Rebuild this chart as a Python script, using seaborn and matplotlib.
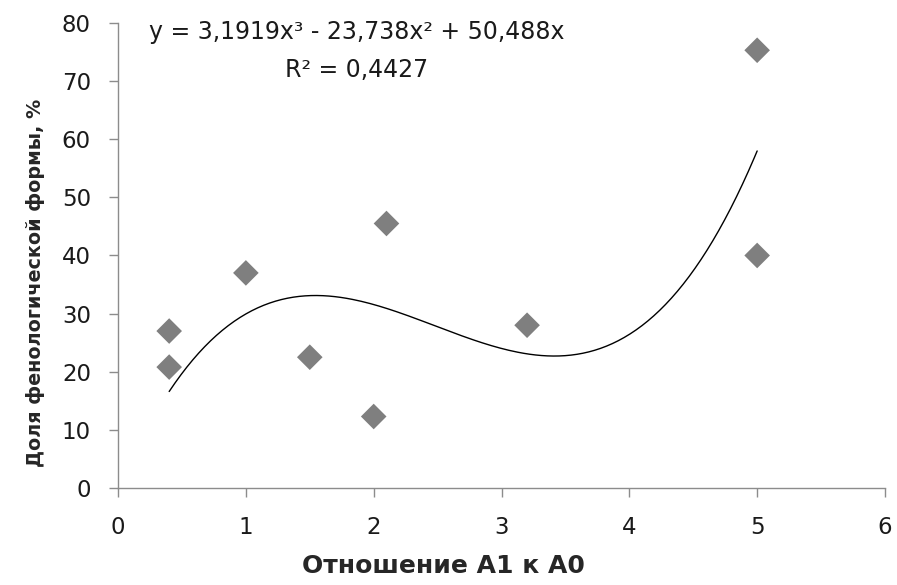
import numpy as np
import pandas as pd
import matplotlib
matplotlib.use("Agg")
import matplotlib.pyplot as plt
import seaborn as sns

sns.set_theme(style="white")
plt.rcParams["font.family"] = ["DejaVu Sans"]

# observed points
ratio_a1_a0 = [0.4, 0.4, 1.0, 1.5, 2.0, 2.1, 3.2, 5.0, 5.0]
share_pct = [27.0, 20.8, 37.0, 22.5, 12.3, 45.5, 28.0, 75.3, 40.0]

# polynomial trendline (3rd order, zero intercept) as printed on the chart
coef = [3.1919, -23.738, 50.488, 0.0]
trend_range = [0.4, 5.0]

pts = pd.DataFrame({"x": ratio_a1_a0, "y": share_pct})
xs = np.linspace(trend_range[0], trend_range[1], 200)
trend = pd.DataFrame({"x": xs, "y": np.polyval(coef, xs)})

fig = plt.figure(figsize=(8.97, 5.85), dpi=100)
ax = fig.add_axes([0.1316, 0.1658, 0.855, 0.795])

sns.lineplot(data=trend, x="x", y="y", ax=ax, color="black", linewidth=1.0)
sns.scatterplot(data=pts, x="x", y="y", ax=ax, marker="D", s=170,
                color="#7f7f7f", edgecolor="none", zorder=3)

ax.set_xlim(0, 6)
ax.set_ylim(0, 80)
ax.set_xticks(range(0, 7))
ax.set_yticks(range(0, 81, 10))
ax.tick_params(axis="both", direction="out", length=6.5, width=1, color="#8c8c8c",
               bottom=True, left=True,
               labelsize=16.5, labelcolor="#1a1a1a")
ax.tick_params(axis="x", pad=13.5)
ax.tick_params(axis="y", pad=13)
for side in ["top", "right"]:
    ax.spines[side].set_visible(False)
for side in ["left", "bottom"]:
    ax.spines[side].set_color("#8c8c8c")
    ax.spines[side].set_linewidth(1)

ax.set_xlabel("Отношение А1 к А0", fontsize=18, fontweight="bold")
ax.set_ylabel("Доля фенологической формы, %", fontsize=13.8, fontweight="bold")
ax.xaxis.set_label_coords(0.424, -0.142)
ax.yaxis.set_label_coords(-0.095, 0.44)

fig.text(0.398, 0.966, "y = 3,1919x³ - 23,738x² + 50,488x\nR² = 0,4427",
         ha="center", va="top", multialignment="center", fontsize=17,
         color="#1a1a1a", linespacing=1.72)

fig.savefig("out.png", dpi=100, facecolor="white")
